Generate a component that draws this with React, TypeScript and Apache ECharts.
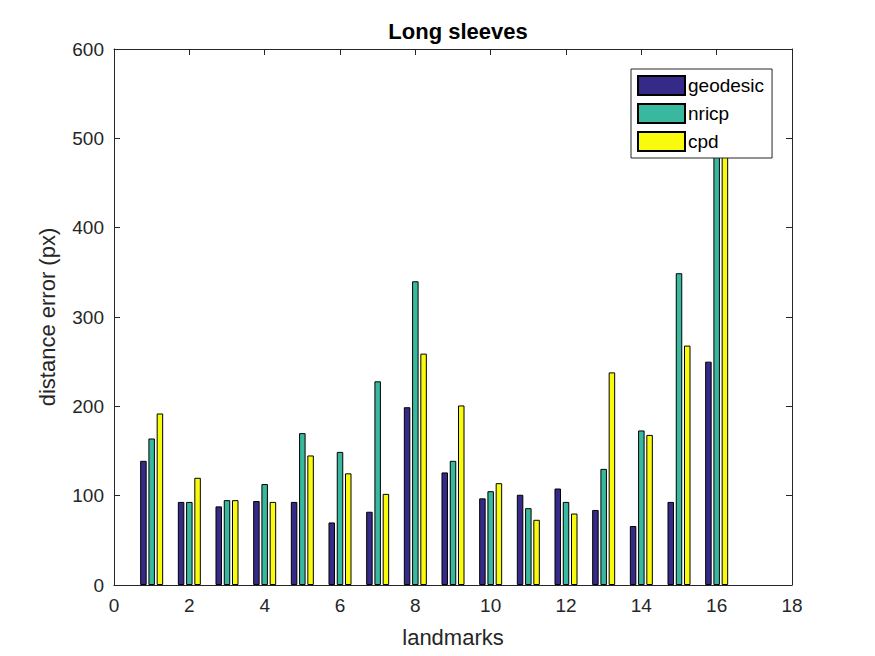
import React, { useEffect, useRef } from "react";
import * as echarts from "echarts";

const landmarks = [1, 2, 3, 4, 5, 6, 7, 8, 9, 10, 11, 12, 13, 14, 15, 16];
const geodesic = [139, 93, 88, 94, 93, 70, 82, 199, 126, 97, 101, 108, 84, 66, 93, 250];
const nricp = [164, 93, 95, 113, 170, 149, 228, 340, 139, 105, 86, 93, 130, 173, 349, 530];
const cpd = [192, 120, 95, 93, 145, 125, 102, 259, 201, 114, 73, 80, 238, 168, 268, 520];
const seriesNames = ["geodesic", "nricp", "cpd"];
const seriesColors = ["#352A87", "#38B89E", "#F9FB0E"];

const AX = "#262626";
const FONT = "Liberation Sans, Arial, Helvetica, sans-serif";

export default function App() {
  const ref = useRef<HTMLDivElement>(null);
  useEffect(() => {
    document.body.style.margin = "0";
    if (!ref.current) return;
    const chart = echarts.init(ref.current, undefined, { renderer: "svg" });
    const datasets = [geodesic, nricp, cpd];
    const axisCommon = {
      axisLine: { show: true, onZero: false, lineStyle: { color: AX, width: 1 } },
      axisTick: { show: true, inside: true, length: 6, lineStyle: { color: AX } },
      splitLine: { show: false },
    };
    chart.setOption({
      animation: false,
      backgroundColor: "#fff",
      textStyle: { fontFamily: FONT },
      title: {
        text: "Long sleeves",
        left: 453,
        top: 15,
        textAlign: "center",
        textStyle: { fontSize: 22, fontWeight: "bold", color: "#000", fontFamily: FONT },
      },
      legend: {
        orient: "vertical",
        left: 631,
        top: 69,
        padding: [6, 8, 6, 6],
        itemWidth: 47,
        itemHeight: 19,
        itemGap: 7,
        borderColor: AX,
        borderWidth: 1,
        borderRadius: 0,
        backgroundColor: "#fff",
        icon: "rect",
        data: seriesNames,
        textStyle: { fontSize: 19, color: "#000", fontFamily: FONT, padding: [0, 0, 0, -2] },
        z: 10,
      },
      grid: { left: 114, right: 83, top: 49, bottom: 71, containLabel: false },
      xAxis: [
        {
          type: "value",
          min: 0,
          max: 18,
          interval: 2,
          position: "bottom",
          name: "landmarks",
          nameLocation: "middle",
          nameGap: 41,
          nameTextStyle: { fontSize: 22, color: AX, fontFamily: FONT },
          axisLabel: { fontSize: 19, color: AX, margin: 11, fontFamily: FONT },
          ...axisCommon,
        },
        {
          type: "value",
          min: 0,
          max: 18,
          interval: 2,
          position: "top",
          axisLabel: { show: false },
          ...axisCommon,
        },
      ],
      yAxis: [
        {
          type: "value",
          min: 0,
          max: 600,
          interval: 100,
          position: "left",
          name: "distance error (px)",
          nameLocation: "middle",
          nameGap: 56,
          nameTextStyle: { fontSize: 22, color: AX, fontFamily: FONT },
          axisLabel: { fontSize: 19, color: AX, margin: 10, fontFamily: FONT },
          ...axisCommon,
        },
        {
          type: "value",
          min: 0,
          max: 600,
          interval: 100,
          position: "right",
          axisLabel: { show: false },
          ...axisCommon,
        },
      ],
      series: seriesNames.map((name, i) => ({
        name,
        type: "bar",
        xAxisIndex: 0,
        yAxisIndex: 0,
        barWidth: 6.5,
        barGap: "27%",
        clip: true,
        itemStyle: { color: seriesColors[i], borderColor: "#000", borderWidth: 1 },
        data: landmarks.map((x, j) => [x, datasets[i][j]]),
      })),
    });
    return () => chart.dispose();
  }, []);
  return <div ref={ref} style={{ width: 875, height: 656 }} />;
}
